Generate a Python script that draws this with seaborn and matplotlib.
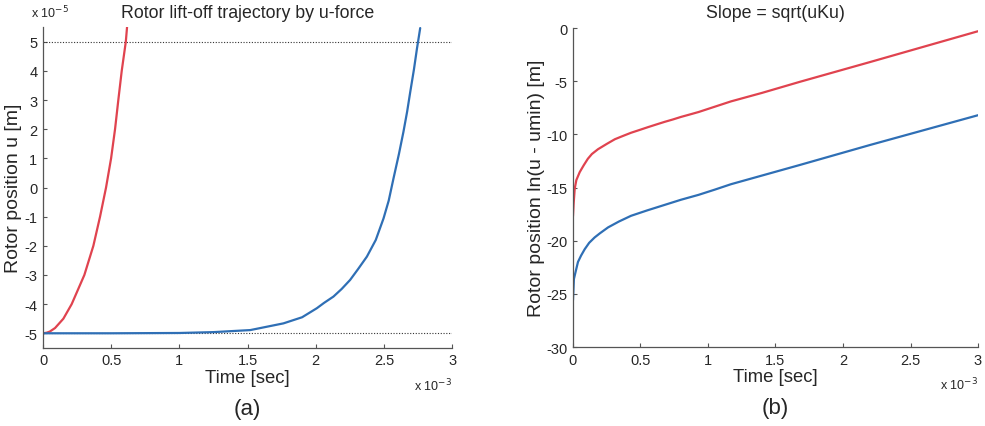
import numpy as np
import pandas as pd
import matplotlib
matplotlib.use("Agg")
import matplotlib.pyplot as plt
import seaborn as sns

# values (time in 1e-3 s)
# (a) rotor position u, in 1e-5 m
t_red_a = [0, 0.027, 0.05, 0.088, 0.149, 0.21, 0.303, 0.369, 0.418, 0.462, 0.499, 0.528, 0.552, 0.577, 0.607, 0.616]
u_red_a = [-5, -4.98, -4.94, -4.82, -4.5, -4.0, -3.0, -2.0, -1.0, 0.0, 1.0, 2.0, 3.0, 4.0, 5.0, 5.5]

t_blue_a = [0, 0.5, 1.0, 1.25, 1.52, 1.763, 1.9, 2.008, 2.06, 2.13, 2.19, 2.252, 2.31, 2.375, 2.44,
            2.497, 2.535, 2.57, 2.61, 2.643, 2.67, 2.693, 2.72, 2.742, 2.766]
u_blue_a = [-5, -5, -4.99, -4.96, -4.89, -4.66, -4.45, -4.14, -3.96, -3.74, -3.48, -3.17, -2.8, -2.37, -1.8,
            -1.06, -0.45, 0.31, 1.15, 1.91, 2.6, 3.28, 4.05, 4.76, 5.47]

u_bounds = [-5, 5]

# (b) ln(u - umin)
t_red_b = [0, 0.005, 0.013, 0.025, 0.05, 0.08, 0.11, 0.14, 0.185, 0.25, 0.31, 0.37, 0.43, 0.49, 0.556,
           0.62, 0.68, 0.74, 0.80, 0.86, 0.93, 1.05, 1.17, 1.4, 1.68, 2.2, 2.6, 3.0]
v_red_b = [-17.7, -16.5, -15.1, -14.3, -13.55, -12.9, -12.3, -11.85, -11.4, -10.9, -10.46, -10.15, -9.85, -9.6, -9.32,
           -9.06, -8.82, -8.6, -8.36, -8.15, -7.9, -7.4, -6.9, -6.1, -5.06, -3.2, -1.75, -0.3]

t_blue_b = [0, 0.007, 0.02, 0.037, 0.06, 0.087, 0.12, 0.16, 0.2, 0.26, 0.34, 0.43, 0.55, 0.68, 0.8,
            0.93, 1.05, 1.17, 1.68, 2.2, 2.6, 3.0]
v_blue_b = [-25.6, -23.6, -22.9, -22.0, -21.4, -20.8, -20.2, -19.7, -19.3, -18.75, -18.2, -17.66, -17.15, -16.63, -16.15,
            -15.69, -15.2, -14.69, -12.88, -11.0, -9.6, -8.2]

x_ticks = [0, 0.5, 1, 1.5, 2, 2.5, 3]
x_ticklabels = ["0", "0.5", "1", "1.5", "2", "2.5", "3"]

RED = "#e0434f"
BLUE = "#2f6fb5"

sns.set_theme(style="white")
plt.rcParams["font.family"] = ["Liberation Sans", "DejaVu Sans"]
plt.rcParams["axes.unicode_minus"] = False
plt.rcParams["xtick.direction"] = "in"
plt.rcParams["ytick.direction"] = "in"

fig = plt.figure(figsize=(9.85, 4.27), dpi=100)
ax1 = fig.add_axes([0.0437, 0.183, 0.4153, 0.751])
ax2 = fig.add_axes([0.5817, 0.185, 0.4112, 0.747])

for ax in (ax1, ax2):
    sns.despine(ax=ax)
    for s in ("left", "bottom"):
        ax.spines[s].set_color("#555555")
        ax.spines[s].set_linewidth(0.9)
    ax.tick_params(axis="both", which="both", length=3, width=0.8, color="#555555",
                   labelsize=10.5, left=True, bottom=True, pad=4)
    ax.set_xlim(0, 3)
    ax.set_xticks(x_ticks)
    ax.set_xticklabels(x_ticklabels)
    ax.set_xlabel("Time [sec]", fontsize=13.3, labelpad=1)

# (a)
for b in u_bounds:
    ax1.axhline(b, color="#333333", lw=0.8, ls=(0, (1, 1.5)))
sns.lineplot(x=t_red_a, y=u_red_a, ax=ax1, color=RED, lw=1.6, sort=False, estimator=None)
sns.lineplot(x=t_blue_a, y=u_blue_a, ax=ax1, color=BLUE, lw=1.6, sort=False, estimator=None)
ax1.set_ylim(-5.5, 5.5)
ax1.set_yticks(range(-5, 6))
ax1.set_ylabel("Rotor position u [m]", fontsize=14)
ax1.yaxis.set_label_coords(-0.052, 0.5)
ax1.set_title("Rotor lift-off trajectory by u-force", fontsize=12.8, pad=7)
ax1.text(-0.03, 1.02, r"x 10$^{-5}$", transform=ax1.transAxes, fontsize=9, ha="left", va="bottom")
ax1.text(1.0, -0.115, r"x 10$^{-3}$", transform=ax1.transAxes, fontsize=9, ha="right", va="center")
ax1.text(0.5, -0.19, "(a)", transform=ax1.transAxes, fontsize=16, ha="center", va="center")

# (b)
sns.lineplot(x=t_red_b, y=v_red_b, ax=ax2, color=RED, lw=1.6, sort=False, estimator=None)
sns.lineplot(x=t_blue_b, y=v_blue_b, ax=ax2, color=BLUE, lw=1.6, sort=False, estimator=None)
ax2.set_ylim(-30, 0)
ax2.set_yticks([-30, -25, -20, -15, -10, -5, 0])
ax2.set_ylabel("Rotor position ln(u - umin) [m]", fontsize=14)
ax2.yaxis.set_label_coords(-0.068, 0.5)
ax2.set_title("Slope = sqrt(uKu)", fontsize=12.8, pad=8)
ax2.text(1.0, -0.115, r"x 10$^{-3}$", transform=ax2.transAxes, fontsize=9, ha="right", va="center")
ax2.text(0.5, -0.19, "(b)", transform=ax2.transAxes, fontsize=16, ha="center", va="center")

fig.savefig("out.png", dpi=100)
